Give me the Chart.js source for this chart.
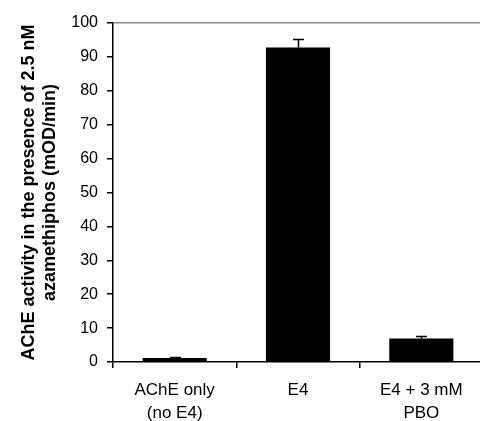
<!DOCTYPE html>
<html><head><meta charset="utf-8">
<script src="https://cdn.jsdelivr.net/npm/chart.js@4"></script>
<style>html,body{margin:0;padding:0;background:#fff;overflow:hidden}#wrap{width:480px;height:421px;overflow:hidden}</style>
</head><body><div id="wrap"><canvas id="c" width="483" height="421"></canvas></div>
<script>
const categories = [["AChE only", "(no E4)"], ["E4"], ["E4 + 3 mM", "PBO"]];
const activity = [1.2, 92.8, 6.9];
const errors = [0.4, 2.4, 0.7];
const yTicks = [0, 10, 20, 30, 40, 50, 60, 70, 80, 90, 100];
const yTitle = ["AChE activity in the presence of 2.5 nM", "azamethiphos (mOD/min)"];

const errorBarPlugin = {
  id: 'errorBars',
  afterDatasetsDraw(chart) {
    const ctx = chart.ctx, x = chart.scales.x, y = chart.scales.y;
    ctx.save();
    ctx.strokeStyle = '#000';
    ctx.lineWidth = 1.5;
    activity.forEach((v, i) => {
      const px = Math.round(x.getPixelForValue(i)) + 0.5;
      const y0 = y.getPixelForValue(v);
      const y1 = Math.round(y.getPixelForValue(v + errors[i])) + 0.5;
      ctx.beginPath();
      ctx.moveTo(px, y0); ctx.lineTo(px, y1);
      ctx.moveTo(px - 5.5, y1); ctx.lineTo(px + 5.5, y1);
      ctx.stroke();
    });
    ctx.restore();
  }
};

new Chart(document.getElementById('c'), {
  type: 'bar',
  data: {
    labels: categories,
    datasets: [{ data: activity, backgroundColor: '#000', borderWidth: 0, barPercentage: 0.52, categoryPercentage: 1 }]
  },
  options: {
    responsive: false,
    animation: false,
    devicePixelRatio: 1,
    layout: { padding: { left: 0, top: 23, right: 0, bottom: 0 } },
    plugins: { legend: { display: false }, tooltip: { enabled: false } },
    scales: {
      x: {
        afterFit: s => { s.height = 59; },
        grid: { offset: true, drawOnChartArea: false, drawTicks: true, tickLength: 6, color: '#000', lineWidth: 1.5 },
        border: { color: '#000', width: 1.5 },
        ticks: { color: '#000', font: { family: 'Arial, Liberation Sans', size: 17, lineHeight: 1.4 }, padding: 10, maxRotation: 0, autoSkip: false }
      },
      y: {
        min: 0, max: 100,
        afterFit: s => { s.width = 113; },
        afterBuildTicks: s => { s.ticks = yTicks.map(v => ({ value: v })); },
        ticks: { color: '#000', font: { family: 'Arial, Liberation Sans', size: 16 }, padding: 9 },
        grid: { drawOnChartArea: true, drawTicks: true, tickLength: 6, lineWidth: 1.5,
                color: c => c.tick && c.tick.value === 100 ? '#8c8c8c' : 'rgba(0,0,0,0)', tickColor: '#000' },
        border: { color: '#000', width: 1.5 },
        title: { display: true, text: yTitle, color: '#000', font: { family: 'Arial, Liberation Sans', size: 18, weight: 'bold', lineHeight: 1.2 }, padding: { top: 18, bottom: 0 } }
      }
    }
  },
  plugins: [errorBarPlugin]
});
</script></body></html>
